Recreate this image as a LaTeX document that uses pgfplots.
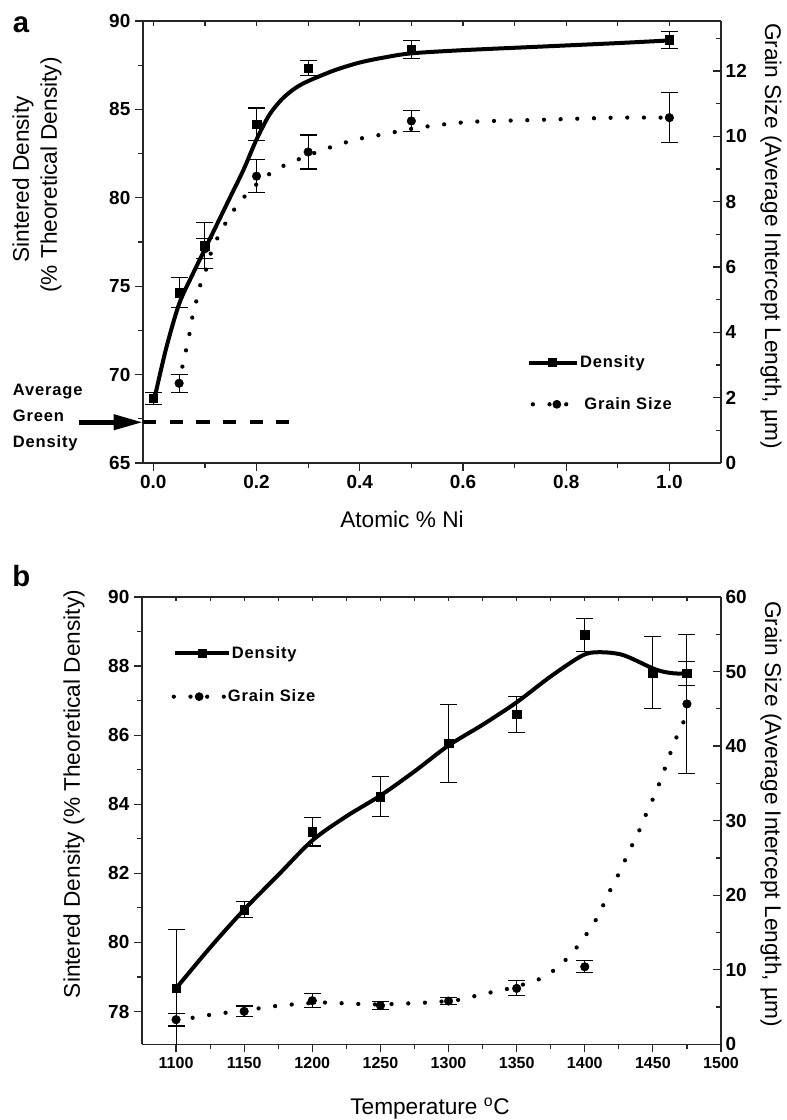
\documentclass[border=0pt]{standalone}
\usepackage{fontspec}
\setmainfont{Liberation Sans}
\newfontfamily\lsfont[LetterSpace=5]{Liberation Sans}
\usepackage{pgfplots}
\pgfplotsset{compat=1.18}
\usetikzlibrary{arrows.meta}

\newcommand\labf{\fontsize{17}{20}\selectfont}
\newcommand\ticka{\bfseries\fontsize{14.2}{16}\selectfont}
\newcommand\tickbx{\bfseries\fontsize{12}{14}\selectfont}
\newcommand\legf{\lsfont\bfseries\fontsize{12.4}{14}\selectfont}
\newcommand\panf{\bfseries\fontsize{22}{24}\selectfont}

\pgfplotsset{
  base/.style={
    scale only axis,
    anchor=south west,
    axis line style={line width=0.9pt, black!85, -},
    every tick/.style={line width=0.9pt, black!85},
    major tick length=6pt, minor tick length=3.4pt,
    tick label style={font=\ticka},
    /pgf/number format/assume math mode=true,
    /pgf/number format/1000 sep={},
    legend style={draw=none, fill=none, inner sep=0pt, outer sep=0pt, anchor=west,
      font=\legf, nodes={inner sep=1pt}},
  },
  densline/.style={black, line width=3pt, smooth},
  grainline/.style={black, line width=3.2pt, line cap=round, dash pattern=on 0pt off 12.5pt, smooth},
  densmark/.style={only marks, black, mark=square*, mark size=3.2pt,
    error bars/.cd, y dir=both, y explicit,
    error bar style={line width=0.8pt, black},
    error mark options={rotate=90, line width=0.8pt, mark size=6.4pt, black}, /pgfplots/.cd},
  grainmark/.style={only marks, black, mark=*, mark size=3.2pt,
    error bars/.cd, y dir=both, y explicit,
    error bar style={line width=0.8pt, black},
    error mark options={rotate=90, line width=0.8pt, mark size=6.4pt, black}, /pgfplots/.cd},
  denslegend/.style={black, line width=3pt, mark=square*, mark size=3pt, mark options={solid, line width=0.5pt}},
  grainlegend/.style={black, line width=3.2pt, line cap=round, dash pattern=on 0pt off 12.5pt, mark=*, mark size=3pt, mark options={solid, line width=0.5pt}},
}

\begin{document}
\begin{tikzpicture}
\path[use as bounding box] (0pt,0pt) rectangle (589.5pt,840pt);

%================ Panel a =================
\begin{axis}[base, at={(107.25pt,492.75pt)}, width=433.5pt, height=331.5pt,
  xmin=-0.02, xmax=1.1, ymin=65, ymax=90,
  axis x line*=bottom, axis y line*=left, tick align=outside,
  xtick={0,0.2,0.4,0.6,0.8,1.0}, minor xtick={0.1,0.3,0.5,0.7,0.9},
  ytick={65,70,75,80,85,90}, minor ytick={67.5,72.5,77.5,82.5,87.5},
  xticklabel style={/pgf/number format/.cd, fixed, fixed zerofill, precision=1}]
\addplot[densline] coordinates {(0.003,68.75) (0.025,71.5) (0.05,74.0) (0.075,75.6) (0.1,77.1) (0.125,78.6) (0.15,80.1) (0.175,81.6) (0.2,83.3) (0.225,84.7) (0.25,85.6) (0.275,86.2) (0.3,86.6) (0.35,87.2) (0.4,87.65) (0.45,87.95) (0.5,88.17) (0.6,88.35) (0.75,88.55) (0.9,88.75) (1.0,88.9)};
\addplot[black, line width=3pt, dash pattern=on 10pt off 10pt] coordinates {(-0.02,67.3) (0.263,67.3)};
\addplot[densmark] table[x=x, y=y, y error=e] {
x y e
0 68.65 0.36
0.05 74.63 0.85
0.1 77.3 1.3
0.2 84.16 0.92
0.3 87.32 0.42
0.5 88.38 0.52
1.0 88.93 0.48
};
\end{axis}

\begin{axis}[base, at={(107.25pt,492.75pt)}, width=433.5pt, height=331.5pt,
  xmin=-0.02, xmax=1.1, ymin=0, ymax=13.53,
  axis x line=none, axis y line*=right, tick align=inside,
  ytick={0,2,4,6,8,10,12}, minor ytick={1,3,5,7,9,11,13},
  legend style={at={(0.6638,0.2269)}},
  legend image code/.code={\draw[mark repeat=2,mark phase=2,#1] plot coordinates {(0pt,0pt) (18pt,0pt) (36pt,0pt)};}]
\addlegendimage{denslegend}
\addlegendentry{Density}
\addplot[forget plot, grainline] coordinates {(0.05,2.45) (0.057,3.0) (0.064,3.5) (0.07,3.95) (0.076,4.5) (0.084,5.0) (0.092,5.5) (0.104,6.0) (0.113,6.5) (0.128,7.0) (0.146,7.5) (0.168,8.0) (0.2,8.53) (0.229,8.89) (0.261,9.16) (0.326,9.57) (0.39,9.89) (0.452,10.08) (0.516,10.27) (0.613,10.44) (0.741,10.5) (0.896,10.57) (1.0,10.57)};
\addplot[forget plot, grainmark] table[x=x, y=y, y error=e] {
x y e
0.05 2.44 0.27
0.1 6.56 0.3
0.2 8.78 0.51
0.3 9.52 0.52
0.5 10.47 0.31
1.0 10.57 0.76
};
\end{axis}

\begin{axis}[base, at={(107.25pt,492.75pt)}, width=433.5pt, height=331.5pt,
  xmin=-0.02, xmax=1.1, ymin=0, ymax=1,
  axis x line*=top, axis y line=none, tick align=inside,
  xtick={0,0.1,0.2,0.3,0.4,0.5,0.6,0.7,0.8,0.9,1.0}, xticklabels={},
  major tick length=3.4pt, ytick=\empty,
  legend style={at={(0.6708,0.1328)}},
  legend image code/.code={\draw[mark repeat=2,mark phase=2,#1] plot coordinates {(0pt,0pt) (18pt,0pt) (36pt,0pt)};}]
\addlegendimage{grainlegend}
\addlegendentry{Grain Size}
\end{axis}

%================ Panel b =================
\begin{axis}[base, at={(106.5pt,56.775pt)}, width=434.25pt, height=335.5pt,
  xmin=1075, xmax=1500, ymin=77.05, ymax=90,
  axis x line*=bottom, axis y line*=left, tick align=outside,
  xtick={1100,1150,...,1500}, minor xtick={1125,1175,...,1475},
  ytick={78,80,...,90}, minor ytick={79,81,...,89},
  xticklabel style={font=\tickbx}]
\addplot[densline] coordinates {(1100,78.67) (1125,79.85) (1150,80.95) (1175,81.95) (1200,82.95) (1225,83.65) (1250,84.25) (1275,84.95) (1300,85.7) (1325,86.3) (1350,86.95) (1375,87.7) (1398,88.3) (1410,88.4) (1428,88.32) (1452,87.9) (1465,87.79) (1475,87.79)};
\addplot[densmark] table[x=x, y=y, y error=e] {
x y e
1100 78.67 1.71
1150 80.95 0.23
1200 83.2 0.41
1250 84.22 0.58
1300 85.76 1.12
1350 86.6 0.52
1400 88.9 0.48
1450 87.81 1.04
1475 87.79 0.35
};
\end{axis}

\begin{axis}[base, at={(106.5pt,56.775pt)}, width=434.25pt, height=335.5pt,
  xmin=1075, xmax=1500, ymin=0, ymax=60,
  axis x line=none, axis y line*=right, tick align=inside,
  ytick={0,10,...,60}, minor ytick={5,15,...,55},
  legend style={at={(0.054,0.8741)}},
  legend image code/.code={\draw[mark repeat=2,mark phase=2,#1] plot coordinates {(0pt,0pt) (20pt,0pt) (40pt,0pt)};}]
\addlegendimage{denslegend}
\addlegendentry{Density}
\addplot[forget plot, grainline] coordinates {(1100,3.3) (1114,3.6) (1125,3.95) (1150,4.55) (1162,4.85) (1174,5.15) (1186,5.35) (1200,5.55) (1211,5.6) (1223,5.5) (1236,5.4) (1250,5.35) (1272,5.5) (1284,5.6) (1300,5.8) (1307,5.95) (1320,6.5) (1332,7.0) (1350,7.7) (1356,8.1) (1368,8.85) (1380,10.3) (1391,12.3) (1401,14.7) (1408.5,16.8) (1414.7,19.1) (1420.6,21.4) (1426.8,23.5) (1432,25.75) (1438.2,27.9) (1443.4,30.2) (1448.8,32.4) (1453.7,34.5) (1458.6,36.9) (1462.7,39.0) (1467.6,41.3) (1472.8,43.4) (1475,45.65)};
\addplot[forget plot, grainmark] table[x=x, y=y, y error=e] {
x y e
1100 3.3 0.85
1150 4.42 0.72
1200 5.85 0.94
1250 5.2 0.5
1300 5.8 0.52
1350 7.5 1.0
1400 10.4 0.8
1475 45.65 9.3
};
\end{axis}

\begin{axis}[base, at={(106.5pt,56.775pt)}, width=434.25pt, height=335.5pt,
  xmin=1075, xmax=1500, ymin=0, ymax=1,
  axis x line*=top, axis y line=none, tick align=inside,
  xtick={1100,1125,...,1500}, xticklabels={},
  major tick length=3.4pt, ytick=\empty,
  legend style={at={(0.0513,0.7771)}},
  legend image code/.code={\draw[mark repeat=2,mark phase=2,#1] plot coordinates {(0pt,0pt) (19pt,0pt) (38pt,0pt)};}]
\addlegendimage{grainlegend}
\addlegendentry{Grain Size}
\end{axis}

%================ Annotations and labels =================
\node[anchor=base west, font=\panf, inner sep=0pt] at (9.5pt,815.25pt) {a};
\node[anchor=base west, font=\panf, inner sep=0pt] at (9pt,400pt) {b};

\node[rotate=90, font=\labf] at (17.25pt,705.4pt) {Sintered Density};
\node[rotate=90, font=\labf] at (38.25pt,708.75pt) {(\% Theoretical Density)};
\node[rotate=-90, font=\labf] at (578.25pt,663pt) {Grain Size (Average Intercept Length, µm)};
\node[anchor=base, font=\labf] at (301.5pt,444pt) {Atomic \% Ni};

\node[anchor=base west, font=\legf, inner sep=0pt] at (9.5pt,543.2pt) {Average};
\node[anchor=base west, font=\legf, inner sep=0pt] at (9.5pt,523.7pt) {Green};
\node[anchor=base west, font=\legf, inner sep=0pt] at (9.5pt,504.2pt) {Density};
\draw[line width=3.7pt, -{Triangle[length=22pt, width=11pt]}] (59pt,523.3pt) -- (107.25pt,523.3pt);

\node[rotate=90, font=\labf] at (55.5pt,244.5pt) {Sintered Density (\% Theoretical Density)};
\node[rotate=-90, font=\labf] at (578.25pt,229.5pt) {Grain Size (Average Intercept Length, µm)};
\node[anchor=base, font=\labf] at (322.5pt,3.75pt) {Temperature \textsuperscript{o}C};
\end{tikzpicture}
\end{document}
